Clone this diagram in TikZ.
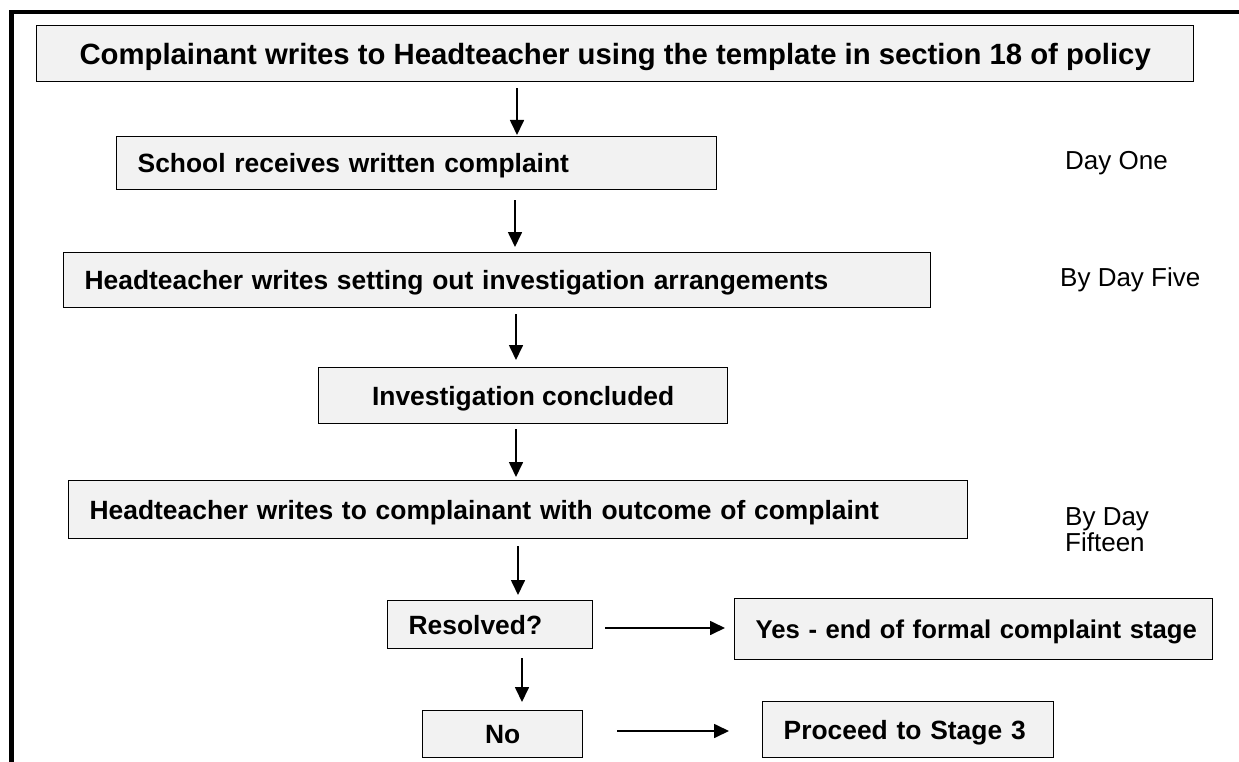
\documentclass[tikz,border=0pt]{standalone}
\usepackage{fontspec}
\setmainfont{Liberation Sans}
\usetikzlibrary{arrows.meta,calc}
\definecolor{boxgray}{HTML}{F2F2F2}
\begin{document}
\begin{tikzpicture}[x=1pt,y=-1pt,
  box/.style={draw=black, fill=boxgray, line width=1.3pt, inner sep=0pt,
    text height=19pt, text depth=0pt,
    font=\bfseries\fontsize{26.4}{30}\selectfont},
  lbox/.style={box, align=left, inner xsep=21pt, anchor=north west},
  cbox/.style={box, align=center, anchor=north west},
  arr/.style={-{Triangle[length=15pt,width=14pt]}, line width=1.7pt},
  day/.style={anchor=west, inner sep=0pt, font=\fontsize{26}{26}\selectfont, align=left}]
\useasboundingbox (0,0) rectangle (1239,762);
% outer frame
\draw[line width=4.5pt] (11.5,762) -- (11.5,12) -- (1239,12);
% boxes
\node[cbox, minimum width=1157pt, minimum height=56pt, text height=21pt,
  font=\bfseries\fontsize{29.3}{33}\selectfont] (b1) at (36,25)
  {Complainant writes to Headteacher using the template in section 18 of policy};
\node[lbox, text width=558pt, minimum height=53pt] (b2) at (116,136)
  {School receives written complaint};
\node[lbox, text width=825pt, minimum height=55pt] (b3) at (63,252)
  {Headteacher writes setting out investigation arrangements};
\node[cbox, minimum width=409pt, minimum height=56pt] (b4) at (318,367)
  {Investigation concluded};
\node[lbox, text width=857pt, minimum height=58pt] (b5) at (68,480)
  {Headteacher writes to complainant with outcome of complaint};
\node[lbox, text width=163pt, minimum height=48pt] (res) at (387,600)
  {Resolved?};
\node[lbox, text width=436pt, minimum height=61pt,
  font=\bfseries\fontsize{25.7}{30}\selectfont] (yes) at (734,598)
  {\mbox{Yes - end of formal complaint stage}};
\node[cbox, minimum width=160pt, minimum height=47pt] (no) at (422,710)
  {No};
\node[lbox, text width=249pt, minimum height=56pt] (pro) at (762,701)
  {Proceed to Stage 3};
% day labels
\node[day] (d1) at (1065,163) {Day One};
\node[day] (d5) at (1060,280) {By Day Five};
\node[day] (d15) at (1065,530) {By Day\\Fifteen};
% arrow columns / rows
\coordinate (c1) at (517,0);
\coordinate (c2) at (515,0);
\coordinate (c3) at (516,0);
\coordinate (c4) at (516,0);
\coordinate (c5) at (518,0);
\coordinate (c6) at (522,0);
\coordinate (r1) at (0,628);
\coordinate (r2) at (0,731);
% connectors
\draw[arr, shorten <=6pt, shorten >=1pt] (b1.south -| c1) -- (b2.north -| c1);
\draw[arr, shorten <=10pt, shorten >=5pt] (b2.south -| c2) -- (b3.north -| c2);
\draw[arr, shorten <=6pt, shorten >=7pt] (b3.south -| c3) -- (b4.north -| c3);
\draw[arr, shorten <=5pt, shorten >=3pt] (b4.south -| c4) -- (b5.north -| c4);
\draw[arr, shorten <=7pt, shorten >=5pt] (b5.south -| c5) -- (res.north -| c5);
\draw[arr, shorten <=9pt, shorten >=8pt] (res.south -| c6) -- (no.north -| c6);
\draw[arr, shorten <=12pt, shorten >=9pt] (res.east |- r1) -- (yes.west |- r1);
\draw[arr, shorten <=34pt, shorten >=33pt] (no.east |- r2) -- (pro.west |- r2);
\end{tikzpicture}
\end{document}
